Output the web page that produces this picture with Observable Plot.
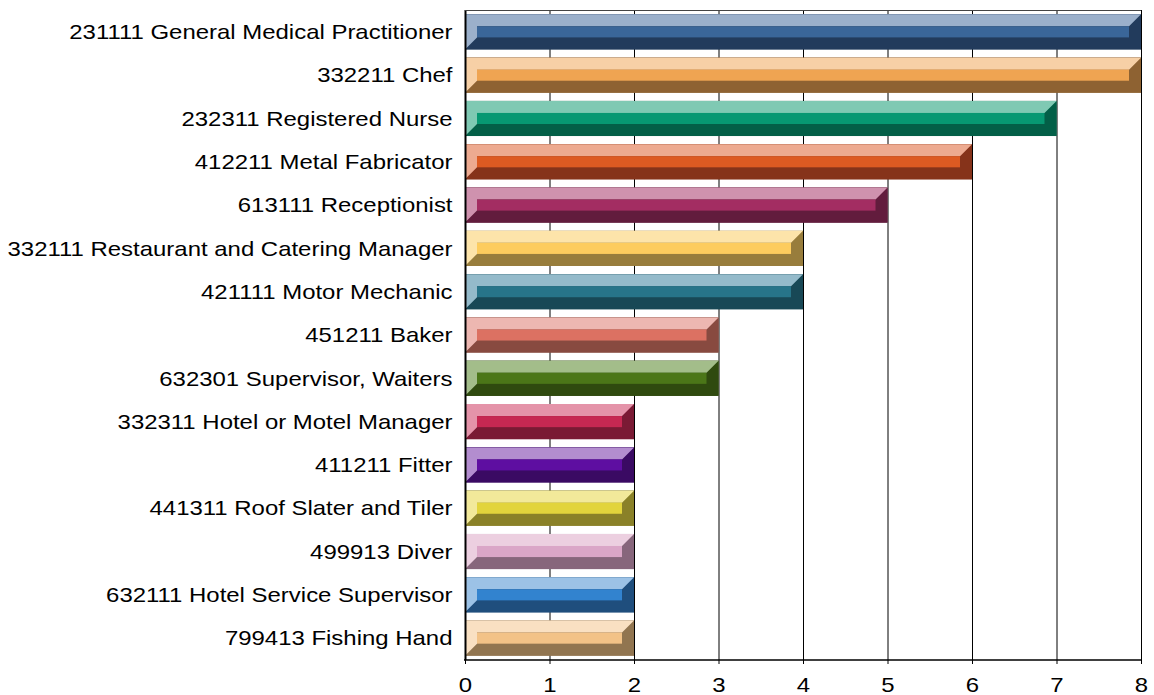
<!DOCTYPE html>
<html><head><meta charset="utf-8">
<script src="https://cdn.jsdelivr.net/npm/d3@7"></script>
<script src="https://cdn.jsdelivr.net/npm/@observablehq/plot@0.6"></script>
<style>html,body{margin:0;padding:0;background:#fff;}</style>
</head><body><div id="chart"></div>
<script>
const occupations = [
  "231111 General Medical Practitioner",
  "332211 Chef",
  "232311 Registered Nurse",
  "412211 Metal Fabricator",
  "613111 Receptionist",
  "332111 Restaurant and Catering Manager",
  "421111 Motor Mechanic",
  "451211 Baker",
  "632301 Supervisor, Waiters",
  "332311 Hotel or Motel Manager",
  "411211 Fitter",
  "441311 Roof Slater and Tiler",
  "499913 Diver",
  "632111 Hotel Service Supervisor",
  "799413 Fishing Hand"
];
const counts = [8, 8, 7, 6, 5, 4, 4, 3, 3, 2, 2, 2, 2, 2, 2];
const lightColors = ["#9bb0cb","#f7d0a6","#7fc9b3","#edaa90","#cf92ae","#fde4aa","#94baca","#edb7b1","#a3bd8a","#e493a9","#b38dcf","#f2e99a","#eccfe0","#9cc2e6","#f9e0c2"];
const midColors   = ["#3a6699","#efa452","#079872","#dd5a22","#a32d62","#fdcc5e","#277489","#dc7162","#4b7618","#c62852","#5e0ea1","#e2d43c","#daa6c7","#3283cf","#f2c287"];
const darkColors  = ["#223b5c","#8e6232","#035f47","#86331a","#621c3d","#987d3c","#184856","#884a40","#2f4a0f","#7a1a34","#3a0a63","#8a8128","#87667c","#1f4e7d","#917550"];
const xTicks = [0, 1, 2, 3, 4, 5, 6, 7, 8];

const data = occupations.map((o, i) => ({
  occupation: o, count: counts[i],
  light: lightColors[i], mid: midColors[i], dark: darkColors[i]
}));

const BEVEL = 12;
const TEXT_STRETCH = 1.14;

function bevelMark(index, scales, values, dimensions) {
  const x = scales.x, y = scales.y;
  const bw = typeof y.bandwidth === "function" ? y.bandwidth() : y.bandwidth;
  const g = d3.create("svg:g");
  for (const d of data) {
    const x0 = x(0), x1 = x(d.count), y0 = y(d.occupation), y1 = y0 + bw;
    const b = BEVEL;
    g.append("rect").attr("x", x0).attr("y", y0).attr("width", x1 - x0).attr("height", y1 - y0).attr("fill", d.dark);
    g.append("path")
      .attr("d", `M${x0},${y0}L${x1},${y0}L${x1 - b},${y0 + b}L${x0 + b},${y0 + b}L${x0 + b},${y1 - b}L${x0},${y1}Z`)
      .attr("fill", d.light);
    g.append("rect").attr("x", x0 + b).attr("y", y0 + b).attr("width", x1 - x0 - 2 * b).attr("height", y1 - y0 - 2 * b).attr("fill", d.mid);
  }
  return g.node();
}

function frameLines(index, scales, values, dimensions) {
  const x = scales.x;
  const g = d3.create("svg:g");
  const xa = x(xTicks[0]), xb = x(xTicks[xTicks.length - 1]);
  const top = dimensions.marginTop, bottom = dimensions.height - dimensions.marginBottom;
  g.append("line").attr("x1", xa).attr("x2", xb).attr("y1", top + 0.5).attr("y2", top + 0.5)
    .attr("stroke", "#444").attr("stroke-width", 1);
  g.append("line").attr("x1", xa - 1).attr("x2", xb).attr("y1", bottom).attr("y2", bottom)
    .attr("stroke", "#000").attr("stroke-width", 1.6);
  return g.node();
}

const chart = Plot.plot({
  width: 1154,
  height: 695,
  marginLeft: 465,
  marginRight: 13,
  marginTop: 10,
  marginBottom: 35,
  style: {fontFamily: "'Liberation Sans', Arial, sans-serif", fontSize: "21px", color: "#000", background: "#fff"},
  x: {domain: [0, 8], ticks: xTicks, tickSize: 4, tickPadding: 13, tickFormat: d => String(d), label: null, line: false},
  y: {domain: occupations, paddingInner: 0.19, paddingOuter: 0.1, round: false, tickSize: 0, tickPadding: 13, label: null},
  marks: [
    Plot.ruleX(xTicks.slice(1), {stroke: "#000", strokeWidth: 1}),
    Plot.barX(data, {x: "count", y: "occupation", fill: "dark"}),
    bevelMark,
    Plot.ruleX([0], {stroke: "#000", strokeWidth: 2}),
    frameLines
  ]
});
document.getElementById("chart").appendChild(chart);
const svgEl = chart.tagName.toLowerCase() === "svg" ? chart : chart.querySelector("svg");
svgEl.querySelectorAll("text").forEach(t => {
  const w = t.getComputedTextLength();
  if (w > 0) {
    t.setAttribute("textLength", (w * TEXT_STRETCH).toFixed(2));
    t.setAttribute("lengthAdjust", "spacingAndGlyphs");
  }
});
</script>
</body></html>
